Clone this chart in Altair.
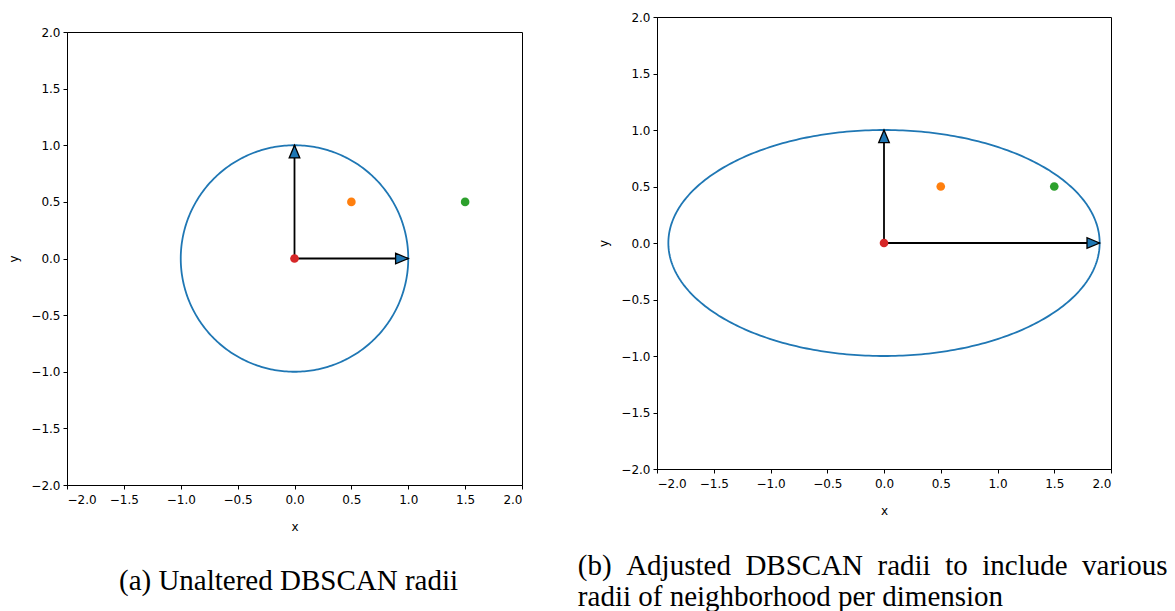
import altair as alt
import pandas as pd
import numpy as np

# ---- data ----
tick_values = [-2.0, -1.5, -1.0, -0.5, 0.0, 0.5, 1.0, 1.5, 2.0]

# neighbourhood radii (x, y) of each panel
radius_a = [1.0, 1.0]
radius_b = [1.9, 1.0]

# sample points
point_id = ["core", "near", "far"]
point_x = [0.0, 0.5, 1.5]
point_y = [0.0, 0.5, 0.5]
point_color = ["#d62728", "#ff7f0e", "#2ca02c"]

caption_a = "(a) Unaltered DBSCAN radii"
caption_b = [
    "(b) \u00a0Adjusted \u00a0DBSCAN \u00a0radii \u00a0to \u00a0include \u00a0various",
    "radii of neighborhood per dimension",
]

ELLIPSE_COLOR = "#1f77b4"
TICK_FONT = "DejaVu Sans"
CAPTION_FONT = "Liberation Serif"

HEAD_H = "M0,0L-1,-0.42L-1,0.42Z"
HEAD_V = "M0,0L-0.42,1L0.42,1Z"


def ellipse_df(r):
    t = np.linspace(0, 2 * np.pi, 361)
    return pd.DataFrame({"x": r[0] * np.cos(t), "y": r[1] * np.sin(t), "o": np.arange(len(t))})


def arrow_df(r):
    return pd.DataFrame({
        "x0": [0.0, 0.0], "y0": [0.0, 0.0],
        "x1": [r[0], 0.0], "y1": [0.0, r[1]],
        "dir": ["h", "v"],
    })


points_df = pd.DataFrame({"id": point_id, "x": point_x, "y": point_y})


def panel(r, w, h, title):
    xs = alt.Scale(domain=[-2, 2], nice=False, zero=False)
    ys = alt.Scale(domain=[-2, 2], nice=False, zero=False)
    xax = alt.Axis(values=tick_values, format=".1f", title="x", labelAngle=0,
                   labelPadding=5, titlePadding=16)
    yax = alt.Axis(values=tick_values, format=".1f", title="y")

    ell = alt.Chart(ellipse_df(r)).mark_line(color=ELLIPSE_COLOR, strokeWidth=1.8).encode(
        x=alt.X("x:Q", scale=xs, axis=xax),
        y=alt.Y("y:Q", scale=ys, axis=yax),
        order="o:Q",
    )
    adf = arrow_df(r)
    rules = alt.Chart(adf).mark_rule(color="black", strokeWidth=1.8).encode(
        x="x0:Q", y="y0:Q", x2="x1:Q", y2="y1:Q"
    )
    heads = alt.Chart(adf).mark_point(
        filled=True, fill=ELLIPSE_COLOR, stroke="black", strokeWidth=1.3, opacity=1, size=640
    ).encode(
        x="x1:Q", y="y1:Q",
        shape=alt.Shape("dir:N", scale=alt.Scale(domain=["h", "v"], range=[HEAD_H, HEAD_V]), legend=None),
    )
    pts = alt.Chart(points_df).mark_circle(size=75, opacity=1).encode(
        x="x:Q", y="y:Q",
        color=alt.Color("id:N", scale=alt.Scale(domain=point_id, range=point_color), legend=None),
    )
    return alt.layer(ell, rules, heads, pts).properties(width=w, height=h, title=title)


left = panel(radius_a, 455, 453, alt.TitleParams(
    caption_a, orient="bottom", anchor="middle", frame="group", offset=35, dx=-6,
    font=CAPTION_FONT, fontSize=29, fontWeight="normal", color="black",
))
right = panel(radius_b, 454, 452, alt.TitleParams(
    caption_b, orient="bottom", anchor="start", frame="bounds", offset=36, dx=-20,
    font=CAPTION_FONT, fontSize=29, fontWeight="normal", color="black", lineHeight=31,
))

spacer = alt.Chart(pd.DataFrame({"a": [0]})).mark_text(text="").encode(
    x=alt.value(0)
).properties(width=455, height=1, view=alt.ViewConfig(stroke="transparent"))

left_col = alt.vconcat(spacer, left, spacing=2)

chart = alt.hconcat(left_col, right, spacing=54).properties(
    padding={"left": 7, "top": 10, "right": 0, "bottom": 0}
).configure_view(stroke="black", strokeWidth=1).configure_axis(
    grid=False, domainColor="black", tickColor="black", labelColor="black", titleColor="black",
    labelFont=TICK_FONT, labelFontSize=12, titleFont=TICK_FONT, titleFontSize=12,
    titleFontWeight="normal", tickSize=4, labelPadding=3, titlePadding=10, domainWidth=1, tickWidth=1,
).configure_title(font=CAPTION_FONT)

chart.save("out.html", embed_options={"renderer": "svg", "actions": False})
